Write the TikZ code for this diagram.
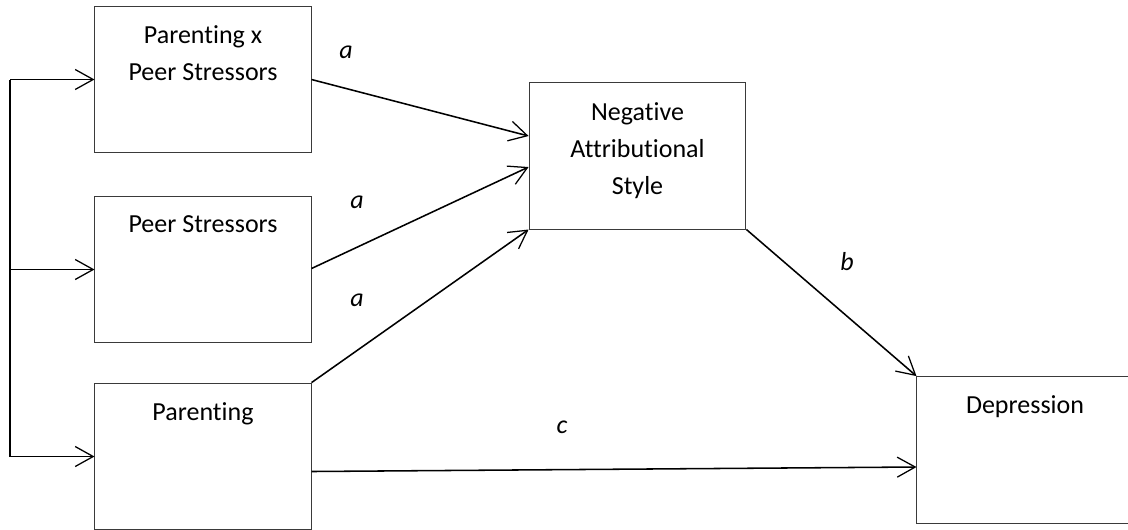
\documentclass[tikz,border=0pt]{standalone}
\usepackage{fontspec}
\setmainfont{Carlito}[Ligatures={NoCommon,NoRequired,NoContextual}]
\usepackage{tikz}
\usetikzlibrary{arrows.meta,calc}
\definecolor{cEdge}{HTML}{3A3A3A}
\definecolor{cLine}{HTML}{000000}
\tikzset{
  var/.style   = {rectangle, draw=cEdge, line width=0.7pt, minimum width=5.4cm,
                  minimum height=3.67cm, inner sep=0pt},
  vtxt/.style  = {align=center, inner sep=0pt, anchor=north,
                  font=\fontsize{18.5pt}{26.3pt}\selectfont},
  path/.style  = {-{Straight Barb[length=0.45cm, width=0.5cm, line width=0.9pt]},
                  draw=cLine, line width=1.1pt},
  rail/.style  = {draw=cLine, line width=1.3pt},
  coef/.style  = {font=\fontsize{18.5pt}{22pt}\selectfont\itshape, inner sep=0pt},
}

\begin{document}
\begin{tikzpicture}[x=0.025cm, y=-0.025cm]
  \useasboundingbox (0,0) rectangle (1128,529);
  \clip (0,0) rectangle (1128,529);

  % predictors
  \node[var] (inter) at (203,79.5)  {};
  \node[var] (peer)  at (203,269.5) {};
  \node[var] (par)   at (203,456.5) {};
  % mediator and outcome
  \node[var, minimum width=5.42cm, minimum height=3.65cm] (nas) at (637.5,156) {};
  \node[var] (dep) at (1025,450) {};

  \node[vtxt] (tinter) at ($(inter.north)+(0,20)$) {Parenting x\\Peer Stressors};
  \node[vtxt] (tpeer)  at ($(peer.north)+(0,20)$)  {Peer Stressors};
  \node[vtxt] (tpar)   at ($(par.north)+(0,20)$)   {Parenting};
  \node[vtxt] (tnas)   at ($(nas.north)+(0,20)$)   {Negative\\Attributional\\Style};
  \node[vtxt] (tdep)   at ($(dep.north)+(0,19)$)   {Depression};

  % rail on the left
  \coordinate (rail) at (10,0);
  \draw[rail] (inter.west -| rail) -- (par.west -| rail);
  \foreach \b in {inter,peer,par}
    \draw[path] (\b.west -| rail) -- (\b.west);

  % a paths
  \draw[path] (inter.east) -- ($(nas.west)+(0,-20)$);
  \draw[path] ($(peer.east)+(0,-1)$) -- ($(nas.west)+(0,11)$);
  \draw[path] (par.north east) -- (nas.south west);
  % b and c paths
  \draw[path] (nas.south east) -- (dep.north west);
  \draw[path] ($(par.east)+(0,15)$) -- ($(dep.west)+(0,17)$);

  \node[coef] (a1) at (346,52)  {a};
  \node[coef] (a2) at (357,202) {a};
  \node[coef] (a3) at (357,300) {a};
  \node[coef] (pb) at (847,262) {b};
  \node[coef] (pc) at (562,427) {c};
\end{tikzpicture}
\end{document}
